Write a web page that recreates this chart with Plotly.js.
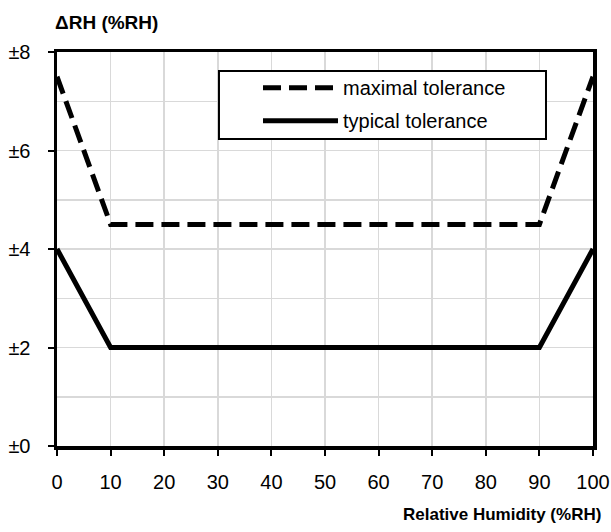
<!DOCTYPE html>
<html>
<head>
<meta charset="utf-8">
<script src="https://cdn.plot.ly/plotly-3.0.1.min.js"></script>
<style>html,body{margin:0;padding:0;background:#fff;}#chart{width:611px;height:532px;}</style>
</head>
<body>
<div id="chart"></div>
<script>
var humidity = [0, 10, 90, 100];
var maximalTolerance = [7.5, 4.5, 4.5, 7.5];
var typicalTolerance = [4, 2, 2, 4];
var xTickVals = [0, 10, 20, 30, 40, 50, 60, 70, 80, 90, 100];
var yTickVals = [0, 2, 4, 6, 8];
var yTickText = ['±0', '±2', '±4', '±6', '±8'];
var seriesNames = ['maximal tolerance', 'typical tolerance'];
var xTitle = 'Relative Humidity (%RH)';
var yTitle = 'ΔRH (%RH)';

var FONT = '"Liberation Sans", Arial, sans-serif';

var traces = [
  {x: humidity, y: maximalTolerance, name: seriesNames[0], mode: 'lines', legendgroup: 'a',
   line: {color: '#000', width: 5, dash: '18px,8px'}},
  {x: humidity, y: typicalTolerance, name: seriesNames[1], mode: 'lines', legendgroup: 'b',
   line: {color: '#000', width: 5}}
];

var layout = {
  width: 611, height: 532,
  margin: {l: 57, r: 18, t: 52, b: 86},
  paper_bgcolor: '#fff', plot_bgcolor: '#fff',
  font: {family: FONT, size: 20, color: '#000'},
  showlegend: true,
  legend: {x: 0.375, y: 0.959, xanchor: 'left', yanchor: 'top',
    bgcolor: 'rgba(0,0,0,0)', borderwidth: 0,
    font: {family: FONT, size: 20, color: '#000'}, itemwidth: 75, tracegroupgap: 4},
  shapes: [
    {type: 'rect', xref: 'paper', yref: 'paper', x0: 0.3022, x1: 0.9123, y0: 0.7792, y1: 0.9518,
     fillcolor: '#fff', line: {color: '#000', width: 2}, layer: 'above'}
  ],
  xaxis: {range: [0, 100], tickvals: xTickVals, ticks: 'outside', ticklen: 6, tickwidth: 2,
    tickcolor: '#000', showline: true, linecolor: '#000', linewidth: 3.5, mirror: true,
    showgrid: true, gridcolor: '#d9d9d9', gridwidth: 1.5, zeroline: false,
    ticklabelstandoff: 9, ticklabeloverflow: 'allow',
    tickfont: {family: FONT, size: 20, color: '#000'}, fixedrange: true},
  yaxis: {range: [0, 8], tickvals: yTickVals, ticktext: yTickText, ticks: 'outside', ticklen: 6, tickwidth: 2,
    tickcolor: '#000', showline: true, linecolor: '#000', linewidth: 3.5, mirror: true,
    showgrid: true, gridcolor: '#d9d9d9', gridwidth: 1.5, zeroline: false,
    minor: {dtick: 1, showgrid: true, gridcolor: '#d9d9d9', gridwidth: 1.5, ticks: ''},
    ticklabelstandoff: 13, ticklabeloverflow: 'allow',
    tickfont: {family: FONT, size: 20, color: '#000'}, fixedrange: true},
  annotations: [
    {text: '<b>' + yTitle + '</b>', xref: 'paper', yref: 'paper', x: -4/536, y: 1.075, xanchor: 'left', yanchor: 'middle',
     showarrow: false, font: {family: FONT, size: 19, color: '#000'}},
    {text: '<b>' + xTitle + '</b>', xref: 'paper', yref: 'paper', x: 1 + 10/536, y: -0.1726, xanchor: 'right', yanchor: 'middle',
     showarrow: false, font: {family: FONT, size: 17, color: '#000'}}
  ]
};

Plotly.newPlot('chart', traces, layout, {displayModeBar: false, staticPlot: true});
</script>
</body>
</html>
